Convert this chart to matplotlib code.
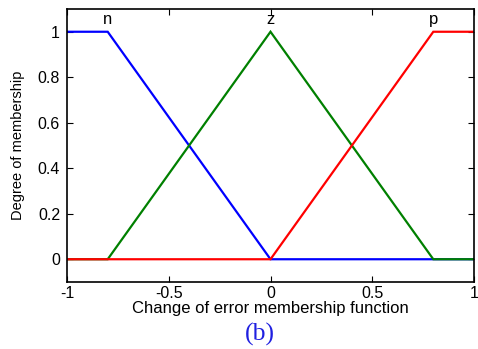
import numpy as np
import matplotlib
matplotlib.use("Agg")
import matplotlib.pyplot as plt

# Membership function breakpoints (x, degree)
n_x = [-1.0, -0.8, 0.0, 1.0]
n_y = [1.0, 1.0, 0.0, 0.0]
z_x = [-1.0, -0.8, 0.0, 0.8, 1.0]
z_y = [0.0, 0.0, 1.0, 0.0, 0.0]
p_x = [-1.0, 0.0, 0.8, 1.0]
p_y = [0.0, 0.0, 1.0, 1.0]

mf_names = ["n", "z", "p"]
mf_label_x = [-0.8, 0.0, 0.8]
mf_colors = ["#0000ff", "#008000", "#ff0000"]

x_ticks = [-1, -0.5, 0, 0.5, 1]
x_ticklabels = ["-1", "-0.5", "0", "0.5", "1"]
y_ticks = [0, 0.2, 0.4, 0.6, 0.8, 1]
y_ticklabels = ["0", "0.2", "0.4", "0.6", "0.8", "1"]

plt.rcParams["font.family"] = ["Liberation Sans", "DejaVu Sans"]

fig = plt.figure(figsize=(4.78, 3.49), dpi=100)
ax = fig.add_axes([67 / 478, 1 - 282 / 349, 407 / 478, 273 / 349])

for (xs, ys), c in zip([(n_x, n_y), (z_x, z_y), (p_x, p_y)], mf_colors):
    ax.plot(xs, ys, color=c, lw=1.6, solid_joinstyle="miter")

for name, lx in zip(mf_names, mf_label_x):
    ax.text(lx, 1.035, name, ha="center", va="baseline", fontsize=12)

ax.set_xlim(-1, 1)
ax.set_ylim(-0.1, 1.1)
ax.set_xticks(x_ticks)
ax.set_xticklabels(x_ticklabels)
ax.set_yticks(y_ticks)
ax.set_yticklabels(y_ticklabels)
ax.tick_params(direction="in", top=True, right=True, labelsize=11.5, length=4,
               width=0.8)
ax.tick_params(axis="x", pad=3)
ax.tick_params(axis="y", pad=5)
for s in ax.spines.values():
    s.set_linewidth(1.2)

ax.set_xlabel("Change of error membership function", fontsize=12, labelpad=0)
ax.set_ylabel("Degree of membership", fontsize=10.5)
ax.yaxis.set_label_coords(-0.103, 0.5)

fig.text(260 / 478, 1 - 334 / 349, "(b)", ha="center", va="center",
         fontsize=18.5, color="#1f1fe0", family=["Liberation Serif", "DejaVu Serif"])

fig.savefig("out.png", dpi=100)
